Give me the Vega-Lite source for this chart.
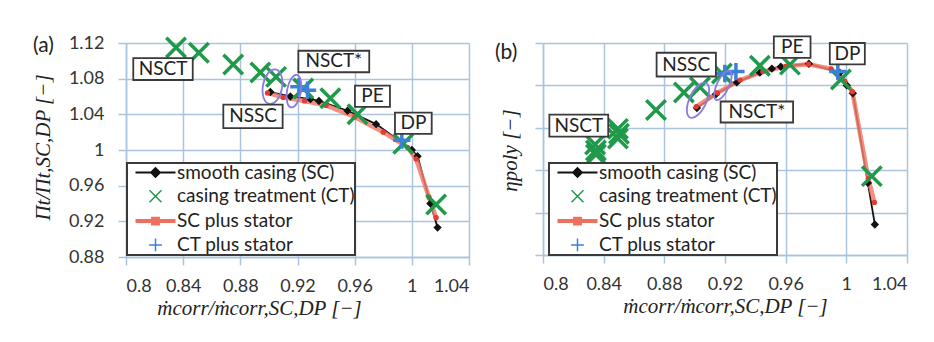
{
  "$schema": "https://vega.github.io/schema/vega-lite/v6.json",
  "background": "white",
  "autosize": {"type": "none"},
  "padding": {"left": 126, "top": 43, "right": 27, "bottom": 85},
  "params": [{"name": "width", "value": 781}, {"name": "height", "value": 214}],
  "bounds": "flush",
  "spacing": 74,
  "datasets": {
    "a": [
      {"s": "smooth casing (SC)", "x": 0.901, "y": 1.065},
      {"s": "smooth casing (SC)", "x": 0.915, "y": 1.060},
      {"s": "smooth casing (SC)", "x": 0.929, "y": 1.057},
      {"s": "smooth casing (SC)", "x": 0.935, "y": 1.055},
      {"s": "smooth casing (SC)", "x": 0.955, "y": 1.044},
      {"s": "smooth casing (SC)", "x": 0.975, "y": 1.029},
      {"s": "smooth casing (SC)", "x": 1.000, "y": 1.000},
      {"s": "smooth casing (SC)", "x": 1.004, "y": 0.993},
      {"s": "smooth casing (SC)", "x": 1.013, "y": 0.940},
      {"s": "smooth casing (SC)", "x": 1.018, "y": 0.913},
      {"s": "SC plus stator", "x": 0.899, "y": 1.064},
      {"s": "SC plus stator", "x": 0.910, "y": 1.059},
      {"s": "SC plus stator", "x": 0.925, "y": 1.055},
      {"s": "SC plus stator", "x": 0.940, "y": 1.050},
      {"s": "SC plus stator", "x": 0.960, "y": 1.037},
      {"s": "SC plus stator", "x": 0.980, "y": 1.020},
      {"s": "SC plus stator", "x": 0.997, "y": 1.003},
      {"s": "SC plus stator", "x": 1.003, "y": 0.990},
      {"s": "SC plus stator", "x": 1.012, "y": 0.947},
      {"s": "SC plus stator", "x": 1.017, "y": 0.924},
      {"s": "casing treatment (CT)", "x": 0.835, "y": 1.115},
      {"s": "casing treatment (CT)", "x": 0.851, "y": 1.109},
      {"s": "casing treatment (CT)", "x": 0.875, "y": 1.096},
      {"s": "casing treatment (CT)", "x": 0.894, "y": 1.087},
      {"s": "casing treatment (CT)", "x": 0.905, "y": 1.082},
      {"s": "casing treatment (CT)", "x": 0.924, "y": 1.069},
      {"s": "casing treatment (CT)", "x": 0.943, "y": 1.058},
      {"s": "casing treatment (CT)", "x": 0.962, "y": 1.040},
      {"s": "casing treatment (CT)", "x": 0.994, "y": 1.007},
      {"s": "casing treatment (CT)", "x": 1.017, "y": 0.939},
      {"s": "CT plus stator", "x": 0.921, "y": 1.071},
      {"s": "CT plus stator", "x": 0.927, "y": 1.067},
      {"s": "CT plus stator", "x": 0.993, "y": 1.011}
    ],
    "aLab": [
      {"t": "NSCT", "x": 0.8259, "y": 1.0908, "x1": 0.8051, "x2": 0.8467, "y1": 1.1030, "y2": 1.0785},
      {"t": "NSCT*", "x": 0.9454, "y": 1.0993, "x1": 0.9206, "x2": 0.9702, "y1": 1.1113, "y2": 1.0872},
      {"t": "NSSC", "x": 0.8889, "y": 1.0378, "x1": 0.8681, "x2": 0.9096, "y1": 1.0510, "y2": 1.0246},
      {"t": "PE", "x": 0.9725, "y": 1.0602, "x1": 0.9602, "x2": 0.9847, "y1": 1.0721, "y2": 1.0483},
      {"t": "DP", "x": 1.0011, "y": 1.0300, "x1": 0.9882, "x2": 1.0139, "y1": 1.0419, "y2": 1.0181}
    ],
    "aEll": [
      {"k": "NSSC", "x": 0.9025, "y": 1.0710},
      {"k": "NSCT*", "x": 0.9175, "y": 1.0660}
    ],
    "b": [
      {"s": "smooth casing (SC)", "x": 0.9015, "y": 0.8693},
      {"s": "smooth casing (SC)", "x": 0.9140, "y": 0.8758},
      {"s": "smooth casing (SC)", "x": 0.9278, "y": 0.8814},
      {"s": "smooth casing (SC)", "x": 0.9430, "y": 0.8860},
      {"s": "smooth casing (SC)", "x": 0.9509, "y": 0.8879},
      {"s": "smooth casing (SC)", "x": 0.9568, "y": 0.8888},
      {"s": "smooth casing (SC)", "x": 0.9753, "y": 0.8902},
      {"s": "smooth casing (SC)", "x": 0.9957, "y": 0.8860},
      {"s": "smooth casing (SC)", "x": 1.0003, "y": 0.8800},
      {"s": "smooth casing (SC)", "x": 1.0043, "y": 0.8763},
      {"s": "smooth casing (SC)", "x": 1.0142, "y": 0.8340},
      {"s": "smooth casing (SC)", "x": 1.0188, "y": 0.8144},
      {"s": "SC plus stator", "x": 0.901, "y": 0.8700},
      {"s": "SC plus stator", "x": 0.915, "y": 0.8765},
      {"s": "SC plus stator", "x": 0.930, "y": 0.8825},
      {"s": "SC plus stator", "x": 0.945, "y": 0.8865},
      {"s": "SC plus stator", "x": 0.960, "y": 0.8890},
      {"s": "SC plus stator", "x": 0.975, "y": 0.8900},
      {"s": "SC plus stator", "x": 0.990, "y": 0.8878},
      {"s": "SC plus stator", "x": 0.999, "y": 0.8820},
      {"s": "SC plus stator", "x": 1.004, "y": 0.8770},
      {"s": "SC plus stator", "x": 1.0145, "y": 0.8360},
      {"s": "SC plus stator", "x": 1.0185, "y": 0.8248},
      {"s": "casing treatment (CT)", "x": 0.8343, "y": 0.8521},
      {"s": "casing treatment (CT)", "x": 0.8349, "y": 0.8493},
      {"s": "casing treatment (CT)", "x": 0.8349, "y": 0.8474},
      {"s": "casing treatment (CT)", "x": 0.8494, "y": 0.8595},
      {"s": "casing treatment (CT)", "x": 0.8501, "y": 0.8572},
      {"s": "casing treatment (CT)", "x": 0.8494, "y": 0.8549},
      {"s": "casing treatment (CT)", "x": 0.8745, "y": 0.8684},
      {"s": "casing treatment (CT)", "x": 0.8929, "y": 0.8767},
      {"s": "casing treatment (CT)", "x": 0.9035, "y": 0.8791},
      {"s": "casing treatment (CT)", "x": 0.9180, "y": 0.8856},
      {"s": "casing treatment (CT)", "x": 0.9430, "y": 0.8893},
      {"s": "casing treatment (CT)", "x": 0.9628, "y": 0.8898},
      {"s": "casing treatment (CT)", "x": 0.9964, "y": 0.8828},
      {"s": "casing treatment (CT)", "x": 1.0168, "y": 0.8372},
      {"s": "CT plus stator", "x": 0.9199, "y": 0.8856},
      {"s": "CT plus stator", "x": 0.9272, "y": 0.8865},
      {"s": "CT plus stator", "x": 0.9944, "y": 0.8865}
    ],
    "bLab": [
      {"t": "PE", "x": 0.9643, "y": 0.8981, "x1": 0.9522, "x2": 0.9764, "y1": 0.9031, "y2": 0.8930},
      {"t": "DP", "x": 1.0007, "y": 0.8950, "x1": 0.9891, "x2": 1.0122, "y1": 0.9000, "y2": 0.8899},
      {"t": "NSSC", "x": 0.8944, "y": 0.8898, "x1": 0.8749, "x2": 0.9140, "y1": 0.8954, "y2": 0.8842},
      {"t": "NSCT*", "x": 0.9410, "y": 0.8674, "x1": 0.9171, "x2": 0.9649, "y1": 0.8724, "y2": 0.8625},
      {"t": "NSCT", "x": 0.8236, "y": 0.8610, "x1": 0.8042, "x2": 0.8430, "y1": 0.8662, "y2": 0.8558}
    ],
    "bEll": [
      {"k": "NSSC", "x": 0.9022, "y": 0.8730},
      {"k": "NSCT*", "x": 0.9186, "y": 0.8800}
    ]
  },
  "hconcat": [
    {
      "width": 343,
      "height": 214,
      "title": {"text": "(a)", "anchor": "start", "frame": "group", "dx": -93, "dy": 25, "offset": 0},
      "data": {"name": "a"},
      "encoding": {
        "x": {"field": "x", "type": "quantitative", "title": "ṁcorr/ṁcorr,SC,DP [−]",
              "scale": {"domain": [0.8, 1.04], "nice": false, "zero": false},
              "axis": {"values": [0.8, 0.84, 0.88, 0.92, 0.96, 1.0, 1.04], "format": ".2~f", "titleX": 133}},
        "y": {"field": "y", "type": "quantitative", "title": "Πt/Πt,SC,DP [−]",
              "scale": {"domain": [0.88, 1.12], "nice": false, "zero": false},
              "axis": {"values": [0.88, 0.92, 0.96, 1.0, 1.04, 1.08, 1.12], "format": ".2~f", "titleX": -83, "titleY": 104, "titleBaseline": "middle"}}
      },
      "layer": [
        {"transform": [{"filter": "datum.s === 'smooth casing (SC)'"}],
         "mark": {"type": "line", "color": "#111111", "strokeWidth": 1.8}},
        {"transform": [{"filter": "datum.s === 'SC plus stator'"}],
         "mark": {"type": "line", "color": "#f27a6a", "strokeWidth": 4.5, "opacity": 0.85}},
        {"transform": [{"filter": "datum.s === 'smooth casing (SC)'"}],
         "mark": {"type": "point", "shape": "M0,-1L1,0L0,1L-1,0Z", "filled": true, "color": "#111111", "size": 70, "opacity": 1}},
        {"transform": [{"filter": "datum.s === 'SC plus stator'"}],
         "mark": {"type": "point", "shape": "circle", "filled": true, "color": "#e63b2e", "size": 28, "opacity": 1}},
        {"transform": [{"filter": "datum.s === 'casing treatment (CT)'"}],
         "mark": {"type": "point", "shape": "M-1,-1L1,1M-1,1L1,-1", "filled": false, "strokeWidth": 3.5, "size": 380, "opacity": 1},
         "encoding": {
           "color": {"field": "s", "type": "nominal",
             "scale": {"domain": ["smooth casing (SC)", "casing treatment (CT)", "SC plus stator", "CT plus stator"], "range": ["#111111", "#1f9a4a", "#ef6f5f", "#3b82d6"]},
             "legend": {"title": null, "orient": "none", "legendX": 1, "legendY": 120, "direction": "vertical",
               "padding": 0, "rowPadding": 3.8, "symbolSize": 64, "symbolOffset": 19, "labelOffset": 12,
               "labelFont": "Lato", "labelFontSize": 19, "labelColor": "#222222", "labelLimit": 400,
               "labelExpr": "datum.label + '\u00a0\u00a0\u00a0\u00a0\u00a0'",
               "strokeColor": "#3a3a3a", "fillColor": "white",
               "encoding": {
                 "legend": {"strokeWidth": {"value": 2}},
                 "symbols": {
                   "size": {"value": 64},
                   "shape": {"value": {"expr": "datum.value === 'smooth casing (SC)' ? 'M-5,0H5M0,-1.1L1.1,0L0,1.1L-1.1,0Z' : datum.value === 'casing treatment (CT)' ? 'M-1.5,-1.5L1.5,1.5M-1.5,1.5L1.5,-1.5' : datum.value === 'SC plus stator' ? 'M-5,0H5M-0.6,-0.6H0.6V0.6H-0.6Z' : 'M-1.6,0H1.6M0,-1.6V1.6'"}},
                   "stroke": {"value": {"expr": "datum.value === 'smooth casing (SC)' ? '#111111' : datum.value === 'casing treatment (CT)' ? '#3fbf9f' : datum.value === 'SC plus stator' ? '#f28b7d' : '#4a8fdc'"}},
                   "fill": {"value": {"expr": "datum.value === 'smooth casing (SC)' ? '#111111' : datum.value === 'SC plus stator' ? '#e8412c' : 'transparent'"}},
                   "strokeWidth": {"value": {"expr": "datum.value === 'SC plus stator' ? 4 : datum.value === 'smooth casing (SC)' ? 2 : 1.5"}},
                   "opacity": {"value": 1}
                 }
               }}
           }
         }},
        {"transform": [{"filter": "datum.s === 'CT plus stator'"}],
         "mark": {"type": "point", "shape": "M-1,0H1M0,-1V1", "filled": false, "color": "#3b82d6", "strokeWidth": 3.5, "size": 300, "opacity": 1}},
        {"data": {"name": "aEll"}, "transform": [{"filter": "datum.k === 'NSSC'"}],
         "mark": {"type": "point", "shape": "M0,-1A0.55,1,0,1,1,0,1A0.55,1,0,1,1,0,-1Z", "filled": false, "color": "#8c7ae0", "strokeWidth": 1.8, "size": 1225, "angle": 10, "opacity": 1}},
        {"data": {"name": "aEll"}, "transform": [{"filter": "datum.k === 'NSCT*'"}],
         "mark": {"type": "point", "shape": "M0,-1A0.42,1,0,1,1,0,1A0.42,1,0,1,1,0,-1Z", "filled": false, "color": "#8c7ae0", "strokeWidth": 1.8, "size": 1089, "angle": 10, "opacity": 1}},
        {"data": {"name": "aLab"},
         "mark": {"type": "rect", "fill": "white", "stroke": "#3a3a3a", "strokeWidth": 1.8},
         "encoding": {
           "x": {"field": "x1", "type": "quantitative", "title": "ṁcorr/ṁcorr,SC,DP [−]"},
           "x2": {"field": "x2"},
           "y": {"field": "y1", "type": "quantitative", "title": "Πt/Πt,SC,DP [−]"},
           "y2": {"field": "y2"}
         }},
        {"data": {"name": "aLab"},
         "mark": {"type": "text", "font": "Lato", "fontSize": 19, "color": "#222222"},
         "encoding": {"text": {"field": "t"}}}
      ]
    },
    {
      "width": 364,
      "height": 212,
      "title": {"text": "(b)", "anchor": "start", "frame": "group", "dx": -48, "dy": 27, "offset": 0},
      "data": {"name": "b"},
      "encoding": {
        "x": {"field": "x", "type": "quantitative", "title": "ṁcorr/ṁcorr,SC,DP [−]",
              "scale": {"domain": [0.8, 1.04], "nice": false, "zero": false},
              "axis": {"values": [0.8, 0.84, 0.88, 0.92, 0.96, 1.0, 1.04], "format": ".2~f"}},
        "y": {"field": "y", "type": "quantitative", "title": "ηpoly [−]",
              "scale": {"domain": [0.8, 0.9], "nice": false, "zero": false},
              "axis": {"values": [0.8, 0.82, 0.84, 0.86, 0.88, 0.9], "labels": false, "titleX": -33, "titleY": 107, "titleBaseline": "middle"}}
      },
      "layer": [
        {"transform": [{"filter": "datum.s === 'smooth casing (SC)'"}],
         "mark": {"type": "line", "color": "#111111", "strokeWidth": 1.8}},
        {"transform": [{"filter": "datum.s === 'SC plus stator'"}],
         "mark": {"type": "line", "color": "#f27a6a", "strokeWidth": 4.5, "opacity": 0.85}},
        {"transform": [{"filter": "datum.s === 'smooth casing (SC)'"}],
         "mark": {"type": "point", "shape": "M0,-1L1,0L0,1L-1,0Z", "filled": true, "color": "#111111", "size": 70, "opacity": 1}},
        {"transform": [{"filter": "datum.s === 'SC plus stator'"}],
         "mark": {"type": "point", "shape": "circle", "filled": true, "color": "#e63b2e", "size": 28, "opacity": 1}},
        {"transform": [{"filter": "datum.s === 'casing treatment (CT)'"}],
         "mark": {"type": "point", "shape": "M-1,-1L1,1M-1,1L1,-1", "filled": false, "strokeWidth": 3.5, "size": 380, "opacity": 1},
         "encoding": {
           "color": {"field": "s", "type": "nominal",
             "scale": {"domain": ["smooth casing (SC)", "casing treatment (CT)", "SC plus stator", "CT plus stator"], "range": ["#111111", "#1f9a4a", "#ef6f5f", "#3b82d6"]},
             "legend": {"title": null, "orient": "none", "legendX": 6, "legendY": 120, "direction": "vertical",
               "padding": 0, "rowPadding": 3.8, "symbolSize": 64, "symbolOffset": 19, "labelOffset": 12,
               "labelFont": "Lato", "labelFontSize": 19, "labelColor": "#222222", "labelLimit": 400,
               "labelExpr": "datum.label + '\u00a0\u00a0\u00a0\u00a0\u00a0'",
               "strokeColor": "#3a3a3a", "fillColor": "white",
               "encoding": {
                 "legend": {"strokeWidth": {"value": 2}},
                 "symbols": {
                   "size": {"value": 64},
                   "shape": {"value": {"expr": "datum.value === 'smooth casing (SC)' ? 'M-5,0H5M0,-1.1L1.1,0L0,1.1L-1.1,0Z' : datum.value === 'casing treatment (CT)' ? 'M-1.5,-1.5L1.5,1.5M-1.5,1.5L1.5,-1.5' : datum.value === 'SC plus stator' ? 'M-5,0H5M-0.6,-0.6H0.6V0.6H-0.6Z' : 'M-1.6,0H1.6M0,-1.6V1.6'"}},
                   "stroke": {"value": {"expr": "datum.value === 'smooth casing (SC)' ? '#111111' : datum.value === 'casing treatment (CT)' ? '#3fbf9f' : datum.value === 'SC plus stator' ? '#f28b7d' : '#4a8fdc'"}},
                   "fill": {"value": {"expr": "datum.value === 'smooth casing (SC)' ? '#111111' : datum.value === 'SC plus stator' ? '#e8412c' : 'transparent'"}},
                   "strokeWidth": {"value": {"expr": "datum.value === 'SC plus stator' ? 4 : datum.value === 'smooth casing (SC)' ? 2 : 1.5"}},
                   "opacity": {"value": 1}
                 }
               }}
           }
         }},
        {"transform": [{"filter": "datum.s === 'CT plus stator'"}],
         "mark": {"type": "point", "shape": "M-1,0H1M0,-1V1", "filled": false, "color": "#3b82d6", "strokeWidth": 3.5, "size": 300, "opacity": 1}},
        {"data": {"name": "bEll"}, "transform": [{"filter": "datum.k === 'NSSC'"}],
         "mark": {"type": "point", "shape": "M0,-1A0.45,1,0,1,1,0,1A0.45,1,0,1,1,0,-1Z", "filled": false, "color": "#8c7ae0", "strokeWidth": 1.8, "size": 1444, "angle": 25, "opacity": 1}},
        {"data": {"name": "bEll"}, "transform": [{"filter": "datum.k === 'NSCT*'"}],
         "mark": {"type": "point", "shape": "M0,-1A0.38,1,0,1,1,0,1A0.38,1,0,1,1,0,-1Z", "filled": false, "color": "#8c7ae0", "strokeWidth": 1.8, "size": 1024, "angle": 25, "opacity": 1}},
        {"data": {"name": "bLab"},
         "mark": {"type": "rect", "fill": "white", "stroke": "#3a3a3a", "strokeWidth": 1.8},
         "encoding": {
           "x": {"field": "x1", "type": "quantitative", "title": "ṁcorr/ṁcorr,SC,DP [−]"},
           "x2": {"field": "x2"},
           "y": {"field": "y1", "type": "quantitative", "title": "ηpoly [−]"},
           "y2": {"field": "y2"}
         }},
        {"data": {"name": "bLab"},
         "mark": {"type": "text", "font": "Lato", "fontSize": 19, "color": "#222222"},
         "encoding": {"text": {"field": "t"}}}
      ]
    }
  ],
  "resolve": {
    "scale": {"x": "independent", "y": "independent", "color": "independent"},
    "legend": {"color": "independent"}
  },
  "config": {
    "font": "Lato",
    "view": {"stroke": null},
    "title": {"font": "Lato", "fontSize": 21, "fontWeight": "normal", "color": "#222222"},
    "axis": {
      "grid": true,
      "gridColor": "#a9c4dc", "gridWidth": 1.5, "gridOpacity": 1,
      "domainColor": "#a9c4dc", "domainWidth": 1.5,
      "tickColor": "#a9c4dc", "tickWidth": 1.5, "tickSize": 8,
      "labelFont": "Lato", "labelFontSize": 18, "labelColor": "#333333",
      "titleFont": "Liberation Serif", "titleFontSize": 21, "titleFontWeight": "normal",
      "titleFontStyle": "italic", "titleColor": "#222222"
    },
    "axisX": {"labelPadding": 12, "titlePadding": 2},
    "axisY": {"labelPadding": 14, "titlePadding": 14}
  }
}
